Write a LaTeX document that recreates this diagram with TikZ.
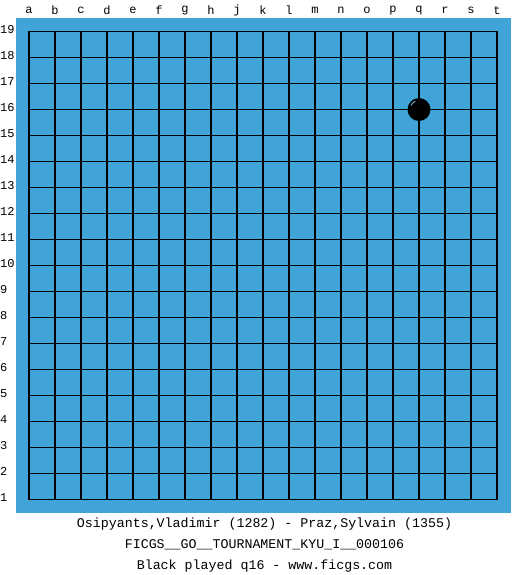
\documentclass[tikz,border=0pt]{standalone}
\usepackage{fontspec}
\setmonofont{Liberation Mono}
\definecolor{board}{RGB}{64,164,216}
\tikzset{
  lbl/.style={font=\ttfamily\fontsize{12}{12}\selectfont, inner sep=0pt},
  caption/.style={font=\ttfamily\fontsize{13.3}{14}\selectfont, inner sep=0pt},
  gridline/.style={line width=1.2pt, black}
}
\begin{document}
\begin{tikzpicture}[x=1pt,y=-1pt]
\useasboundingbox (0,0) rectangle (525,575);
\fill[white] (0,0) rectangle (525,575);
\fill[board] (16,18) rectangle (511,513);
% grid
\foreach \i in {0,...,18} {
  \draw[gridline] ({29+26*\i},31.5) -- ({29+26*\i},499.5);
  \draw[gridline] (29,{31.5+26*\i}) -- (497,{31.5+26*\i});
}
% column letters
\foreach \l [count=\i from 0] in {a,b,c,d,e,f,g,h,j,k,l,m,n,o,p,q,r,s,t} {
  \node[lbl] (c\l) at ({29+26*\i},10.5) {\l};
}
% row numbers
\foreach \n in {1,...,19} {
  \node[lbl, anchor=west] (r\n) at (0,{29.5+26*(19-\n)}) {\n};
}
% stone q16
\node[circle, fill=black, minimum size=23pt, inner sep=0pt] (q16) at (419,109.5) {};
\draw[board!70!white, line width=0.8pt] (q16.center) ++(-8,-4) arc (205:245:9);
% captions
\node[caption] (t1) at (264.5,524) {Osipyants,Vladimir (1282) - Praz,Sylvain (1355)};
\node[caption] (t2) at (264.5,545) {FICGS\_\_GO\_\_TOURNAMENT\_KYU\_I\_\_000106};
\node[caption] (t3) at (264.5,566) {Black played q16 - www.ficgs.com};
\end{tikzpicture}
\end{document}
